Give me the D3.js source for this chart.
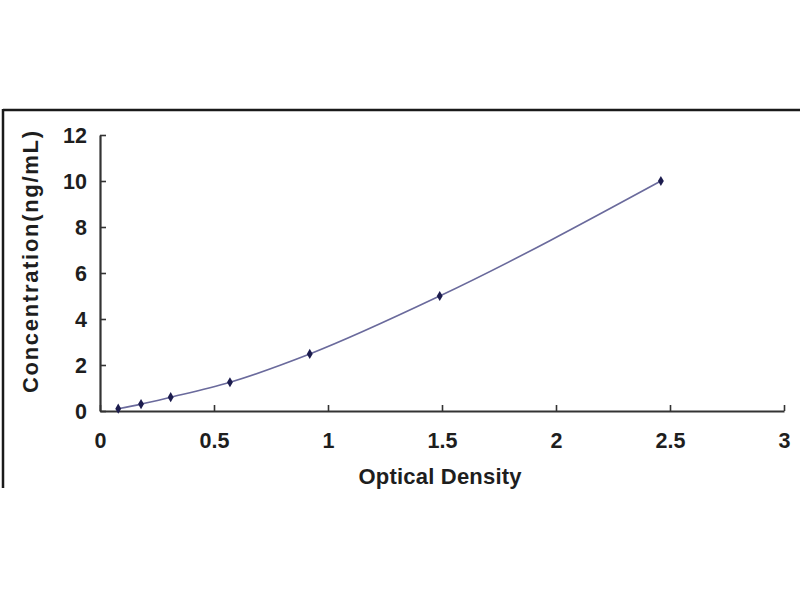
<!DOCTYPE html>
<html>
<head>
<meta charset="utf-8">
<script src="https://cdn.jsdelivr.net/npm/d3@7"></script>
<style>
  html, body { margin: 0; padding: 0; background: #fff; }
  svg { display: block; }
  text { font-family: "Liberation Sans", Arial, sans-serif; font-weight: bold; fill: #1e1e1e; }
</style>
</head>
<body>
<svg id="chart" width="800" height="600"></svg>
<script>
const opticalDensity = [0.08, 0.18, 0.31, 0.57, 0.92, 1.49, 2.46];
const concentration  = [0.1, 0.3, 0.6, 1.25, 2.48, 5, 10];
const xTicks = [0, 0.5, 1, 1.5, 2, 2.5, 3];
const yTicks = [0, 2, 4, 6, 8, 10, 12];
const xTitle = "Optical Density";
const yTitle = "Concentration(ng/mL)";

const svg = d3.select("#chart");

// outer frame (top and left edges visible)
svg.append("line").attr("x1", 3).attr("x2", 800).attr("y1", 110).attr("y2", 110)
  .attr("stroke", "#1a1a1a").attr("stroke-width", 2.5);
svg.append("line").attr("x1", 3).attr("x2", 3).attr("y1", 109).attr("y2", 488)
  .attr("stroke", "#1a1a1a").attr("stroke-width", 2.5);

const x = d3.scaleLinear().domain([0, 3]).range([100, 784]);
const y = d3.scaleLinear().domain([0, 12]).range([411, 135]);

const xAxis = svg.append("g").attr("transform", `translate(0,${y(0)})`)
  .call(d3.axisBottom(x).tickValues(xTicks).tickSizeInner(-6).tickSizeOuter(0)
    .tickFormat(d3.format("")).tickPadding(22));
const yAxis = svg.append("g").attr("transform", `translate(${x(0)},0)`)
  .call(d3.axisLeft(y).tickValues(yTicks).tickSizeInner(-6).tickSizeOuter(0)
    .tickFormat(d3.format("")).tickPadding(13));

[xAxis, yAxis].forEach(g => {
  g.select(".domain").attr("stroke", "#333").attr("stroke-width", 2.2);
  g.selectAll(".tick line").attr("stroke", "#333").attr("stroke-width", 1.6);
  g.selectAll(".tick text").attr("font-size", 21.5)
    .attr("font-family", "Liberation Sans, Arial, sans-serif")
    .attr("font-weight", "bold").attr("fill", "#1e1e1e");
});
yAxis.selectAll(".tick text").attr("dy", "0.36em");

// titles
svg.append("text").attr("x", 440).attr("y", 484).attr("text-anchor", "middle")
  .attr("font-size", 22).attr("textLength", 163).attr("lengthAdjust", "spacing")
  .text(xTitle);
svg.append("text").attr("transform", "translate(38,262) rotate(-90)")
  .attr("text-anchor", "middle").attr("font-size", 22)
  .attr("textLength", 262).attr("lengthAdjust", "spacing")
  .text(yTitle);

const pts = opticalDensity.map((d, i) => [d, concentration[i]]);

svg.append("path").datum(pts)
  .attr("fill", "none").attr("stroke", "#6a6a9c").attr("stroke-width", 1.6)
  .attr("d", d3.line().x(d => x(d[0])).y(d => y(d[1])).curve(d3.curveMonotoneX));

svg.append("g").selectAll("path").data(pts).join("path")
  .attr("transform", d => `translate(${x(d[0])},${y(d[1])})`)
  .attr("d", d3.symbol().type(d3.symbolDiamond).size(30))
  .attr("fill", "#1c1c4e");
</script>
</body>
</html>
